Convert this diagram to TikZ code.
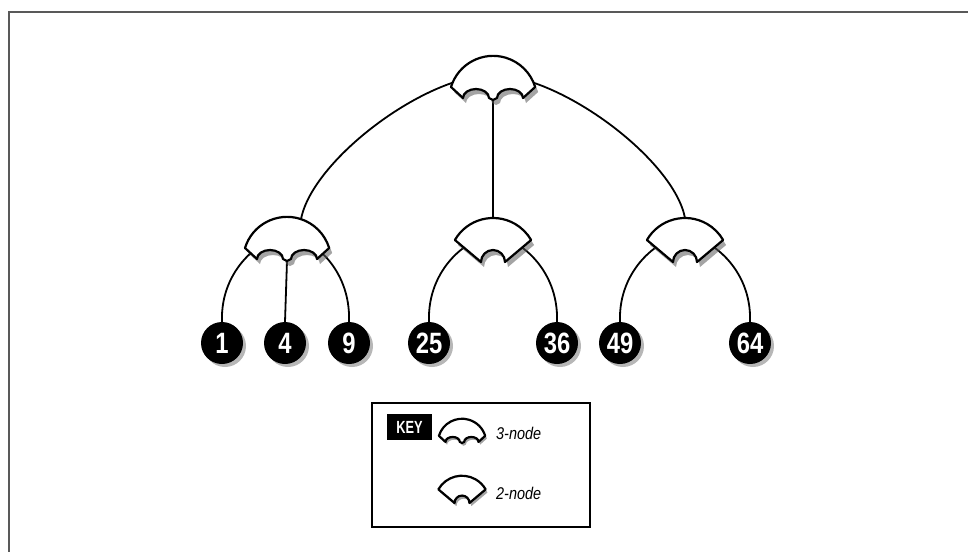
\documentclass[tikz,border=0pt]{standalone}
\usepackage{fontspec}
\usepackage{graphicx}
\setmainfont{Liberation Sans}
\usetikzlibrary{shadows}
\newcommand\threepath{(-42,13) arc[start angle=163,end angle=17,radius=44] -- (30,2) arc[start angle=0,end angle=180,x radius=13,y radius=9] -- (0,0) -- (-4,2) arc[start angle=0,end angle=180,x radius=13,y radius=9] -- cycle}
\newcommand\twopath{(-38.1,22) arc[start angle=150,end angle=30,radius=44] -- (12,0) arc[start angle=0,end angle=180,radius=12] -- cycle}
\newcommand\leaftxt[1]{\scalebox{0.85}[1.05]{\fontsize{28}{28}\selectfont\bfseries #1}}
\newcommand\keytxt[1]{\scalebox{0.8}[1.1]{\fontsize{16}{16}\selectfont\bfseries #1}}
\newcommand\labtxt[1]{\scalebox{0.85}[1]{\fontsize{17}{17}\selectfont\itshape #1}}
\begin{document}
\begin{tikzpicture}[x=1pt,y=1pt,
  edge/.style={line width=1.8pt,black},
  shapeline/.style={line width=2.2pt,black,fill=white,line join=round},
  shadowfill/.style={fill=black!65,opacity=0.55},
  leaf/.style={circle,fill=black,minimum size=42pt,inner sep=0pt,text=white,
    drop shadow={shadow xshift=3pt,shadow yshift=-3pt,opacity=0.4,fill=black!70}},
  threenode/.pic={
    \begin{scope}[shift={(3,-5)}]\fill[shadowfill] \threepath;\end{scope}
    \filldraw[shapeline] \threepath;
    \coordinate (-stem) at (0,0);
    \coordinate (-top) at (0,44);
    \coordinate (-hub) at (0,25);
    \coordinate (-rdome) at (14,41.7);
  },
  twonode/.pic={
    \begin{scope}[shift={(3,-5)}]\fill[shadowfill] \twopath;\end{scope}
    \filldraw[shapeline] \twopath;
    \coordinate (-top) at (0,44);
    \coordinate (-hub) at (0,26);
  }]
\useasboundingbox (0,0) rectangle (968,-552);
% frame
\draw[black!65,line width=1.6pt] (968,-12) -- (9,-12) -- (9,-552);

% named anchor points of the tree shapes
\coordinate (rootpos) at (493,-100);
\coordinate (lftpos) at (287,-261);
\coordinate (midpos) at (493,-262);
\coordinate (rgtpos) at (685,-262);

% leaves
\node[leaf] (n1)  at (222,-343) {\leaftxt{1}};
\node[leaf] (n4)  at (285,-343) {\leaftxt{4}};
\node[leaf] (n9)  at (349,-343) {\leaftxt{9}};
\node[leaf] (n25) at (429,-343) {\leaftxt{25}};
\node[leaf] (n36) at (557,-343) {\leaftxt{36}};
\node[leaf] (n49) at (620,-343) {\leaftxt{49}};
\node[leaf] (n64) at (750,-343) {\leaftxt{64}};

% connectors (drawn under the shapes)
\draw[edge] (rootpos) -- (493,-218);
\draw[edge] (lftpos) -- (n4.north);
\draw[edge] (301,-219.3) .. controls +(11,59) and +(-68,0) .. (493,-75)
            .. controls +(68,0) and +(-11,58) .. (685,-218);
\draw[edge] (n1.north) .. controls +(-2,54) and +(-23,0) .. (287,-236)
            .. controls +(23,0) and +(2,54) .. (n9.north);
\draw[edge] (n25.north) .. controls +(-2,54) and +(-23,0) .. (493,-236)
            .. controls +(23,0) and +(2,54) .. (n36.north);
\draw[edge] (n49.north) .. controls +(-2,54) and +(-23,0) .. (685,-236)
            .. controls +(23,0) and +(2,54) .. (n64.north);

% tree shapes
\pic (root) at (rootpos) {threenode};
\pic (lft) at (lftpos) {threenode};
\pic (mid) at (midpos) {twonode};
\pic (rgt) at (rgtpos) {twonode};

% key
\node[draw,line width=1.8pt,minimum width=218pt,minimum height=124pt,inner sep=0pt] (keybox) at (481,-465) {};
\node[fill=black,text=white,minimum width=45pt,minimum height=26pt,inner sep=0pt] (keylabel) at (409.5,-427) {\keytxt{KEY}};
\pic[scale=0.55] (icon3) at (462,-443) {threenode};
\pic[scale=0.62] (icon2) at (462,-503) {twonode};
\node[anchor=west,inner sep=0pt] (lab3) at (496,-433) {\labtxt{3-node}};
\node[anchor=west,inner sep=0pt] (lab2) at (496,-493) {\labtxt{2-node}};
\end{tikzpicture}
\end{document}
